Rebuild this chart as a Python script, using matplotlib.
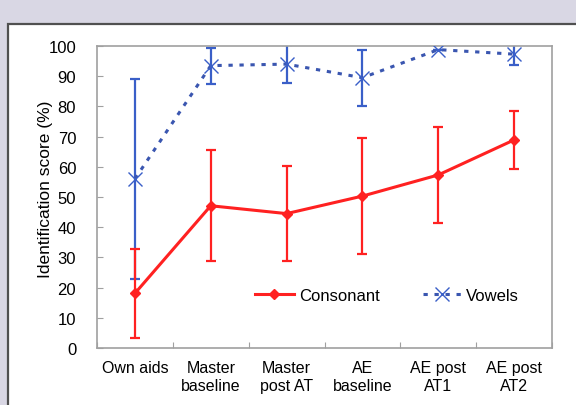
import matplotlib
matplotlib.use("Agg")
import matplotlib.pyplot as plt
from matplotlib.patches import Rectangle
import numpy as np

plt.rcParams['font.family'] = ['Liberation Sans', 'DejaVu Sans']

categories = ["Own aids", "Master\nbaseline", "Master\npost AT", "AE\nbaseline",
              "AE post\nAT1", "AE post\nAT2"]
consonant = [18.1, 47.1, 44.5, 50.3, 57.3, 68.9]
consonant_err = [14.7, 18.3, 15.8, 19.2, 15.9, 9.7]
vowels = [56.0, 93.5, 94.0, 89.5, 98.8, 97.3]
vowels_err = [33.0, 6.0, 6.3, 9.3, 0.0, 3.7]

red = "#ff2121"
blue = "#3a56b0"

fig = plt.figure(figsize=(5.76, 4.06), dpi=100)
fig.patch.set_facecolor("#d9d7e4")

# white panel with dark frame
panel = Rectangle((8 / 576, -0.05), 1.0, (406 - 25) / 406 + 0.05,
                  transform=fig.transFigure, facecolor="white",
                  edgecolor="#505050", linewidth=1.6, zorder=-1)
fig.patches.append(panel)

ax = fig.add_axes([97 / 576, 1 - 349 / 406, (552 - 97) / 576, (349 - 47) / 406])
ax.set_facecolor("white")
x = np.arange(len(categories))

ax.errorbar(x, vowels, yerr=vowels_err, fmt="none", ecolor="#3a5fc8",
            elinewidth=1.6, capsize=3.5, capthick=1.6, zorder=2)
ax.errorbar(x, consonant, yerr=consonant_err, fmt="none", ecolor=red,
            elinewidth=1.6, capsize=3.5, capthick=1.6, zorder=2)

ax.plot(x, consonant, color=red, lw=2.2, marker="D", markersize=5,
        label="Consonant", zorder=4)
ax.plot(x, vowels, color=blue, lw=2.2, linestyle=(0, (1.4, 2.2)),
        marker="x", markersize=10, markeredgewidth=1.0,
        markeredgecolor="#3a5fc8", label="Vowels", zorder=3)

ax.set_xlim(-0.5, len(categories) - 0.5)
ax.set_ylim(0, 100)
ax.set_yticks(np.arange(0, 101, 10))
ax.set_xticks(np.arange(-0.5, len(categories) + 0.5, 1), minor=False)
ax.set_xticklabels([])
ax.set_xticks(x, minor=True)
ax.set_xticklabels(categories, minor=True, fontsize=11.5, linespacing=1.2)
ax.tick_params(axis="x", which="major", direction="in", length=4,
               color="#a0a0a0")
ax.tick_params(axis="x", which="minor", length=0, pad=9)
ax.tick_params(axis="y", direction="in", length=4, color="#a0a0a0",
               labelsize=12, pad=15)
for s in ax.spines.values():
    s.set_color("#a0a0a0")
    s.set_linewidth(1.2)

ax.set_ylabel("Identification score (%)", fontsize=12.5)
ax.yaxis.set_label_coords(-0.097, 0.53)

ax.legend(loc="lower left", bbox_to_anchor=(0.315, 0.1), ncol=2, frameon=False,
          fontsize=12, handlelength=2.3, handletextpad=0.3,
          columnspacing=2.6)

fig.savefig("out.png", dpi=100, facecolor=fig.get_facecolor())
